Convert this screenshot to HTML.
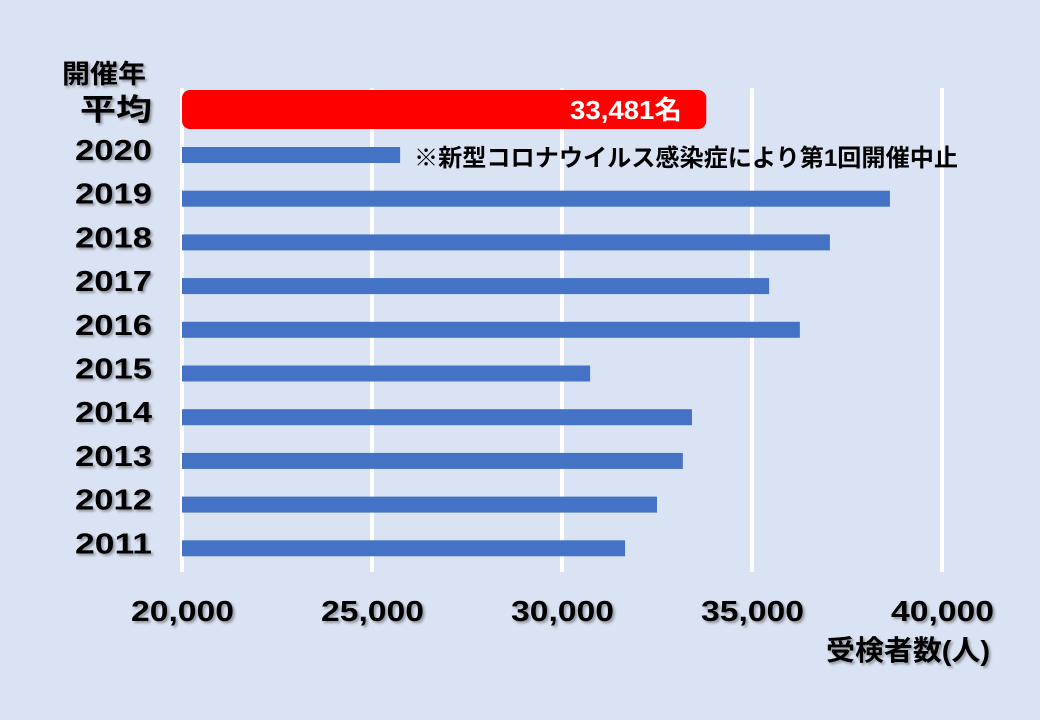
<!DOCTYPE html>
<html><head><meta charset="utf-8"><style>
body{margin:0;background:#dae3f3;}
svg{display:block;font-family:"Liberation Sans","Noto Sans CJK JP",sans-serif;font-weight:bold;}
</style></head><body>
<svg id="c" width="1040" height="720">
<defs><filter id="sh" x="-10%" y="-10%" width="130%" height="140%"><feDropShadow dx="2" dy="2" stdDeviation="1.2" flood-color="#000" flood-opacity="0.35"/></filter></defs>
<rect width="1040" height="720" fill="#dae3f3"/>
<g id="grid"></g><g id="bars"></g><g id="labels"></g>
<text x="62" y="83" font-size="26" textLength="84" lengthAdjust="spacingAndGlyphs" fill="#000" filter="url(#sh)">開催年</text>
<text x="826" y="660" font-size="28" textLength="164" lengthAdjust="spacingAndGlyphs" fill="#000" filter="url(#sh)">受検者数(人)</text>
<text x="414" y="166" font-size="24" textLength="544" lengthAdjust="spacingAndGlyphs" fill="#000">※新型コロナウイルス感染症により第1回開催中止</text>
</svg>
<script>
const years=["2020","2019","2018","2017","2016","2015","2014","2013","2012","2011"];
const counts=[25740,38630,37050,35450,36260,30740,33420,33180,32500,31660];
const averageValue=33481;
const averageLabel="33,481名";
const ticks=[20000,25000,30000,35000,40000];
const tickLabels=["20,000","25,000","30,000","35,000","40,000"];
const NS="http://www.w3.org/2000/svg";
const x=v=>182+(v-20000)*760/20000;
const rowY=i=>155+i*43.7;
function mk(t,a,p){const e=document.createElementNS(NS,t);for(const k in a)e.setAttribute(k,a[k]);p.appendChild(e);return e;}
const g=document.getElementById('grid'),b=document.getElementById('bars'),l=document.getElementById('labels');
ticks.forEach((t,i)=>{
 const ln=mk('line',{x1:x(t),x2:x(t),y1:88,y2:572,stroke:'#fff','stroke-width':4},g);
 
 
 const tx=mk('text',{x:x(t)-51,y:621,'font-size':29,textLength:103,lengthAdjust:'spacingAndGlyphs',filter:'url(#sh)'},l);
 tx.textContent=tickLabels[i];
 
 
});
counts.forEach((v,i)=>{
 const r=mk('rect',{x:182,y:rowY(i)-8,width:x(v)-182,height:16,fill:'#4472c4'},b);
 
 
 const t=mk('text',{x:75,y:rowY(i)+5,'font-size':29,textLength:77,lengthAdjust:'spacingAndGlyphs',filter:'url(#sh)'},l);
 t.textContent=years[i];
 
 
});
const av=mk('rect',{x:182,y:90,width:x(averageValue)-182+12,height:39,rx:8,fill:'#ff0000'},b);


const avl=mk('text',{x:570,y:119,'font-size':26,textLength:112,lengthAdjust:'spacingAndGlyphs',fill:'#fff'},l);
avl.textContent=averageLabel;


const avy=mk('text',{x:80,y:120,'font-size':30,textLength:72,lengthAdjust:'spacingAndGlyphs',filter:'url(#sh)'},l);
avy.textContent="平均";


</script>
</body></html>
